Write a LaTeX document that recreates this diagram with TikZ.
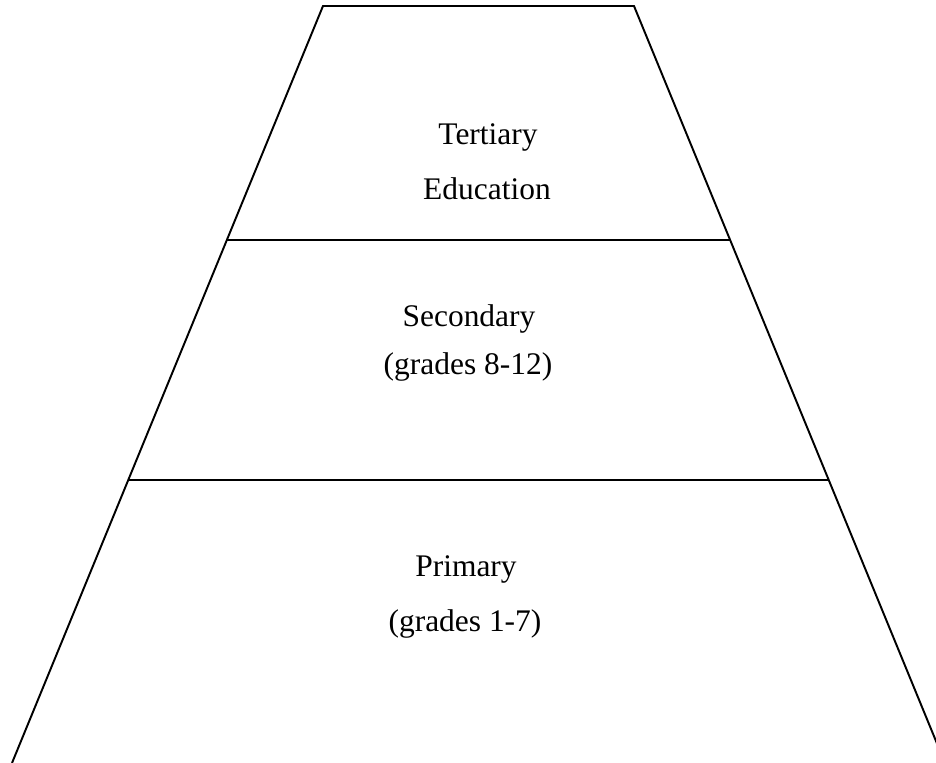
\documentclass[tikz,border=0pt]{standalone}
\usepackage{fontspec}
\setmainfont{Liberation Serif}
\usetikzlibrary{calc}
\tikzset{
  level/.style={anchor=base,inner sep=0pt,font=\fontsize{17.9}{21}\selectfont},
}
\begin{document}
\begin{tikzpicture}[line width=1.1pt]
\clip (0,0) rectangle (18.72,15.26);
\coordinate (tl) at (6.46,15.14);
\coordinate (tr) at (12.68,15.14);
\coordinate (bl) at (0.24,0);
\coordinate (br) at (18.90,0);
\draw (bl)--(tl)--(tr)--(br);
\draw ($(tl)!0.309!(bl)$)--($(tr)!0.309!(br)$);
\draw ($(tl)!0.626!(bl)$)--($(tr)!0.626!(br)$);
\node[level] (tert) at (9.76,12.36) {Tertiary};
\node[level] (edu) at (9.74,11.26) {Education};
\node[level] (sec) at (9.38,8.72) {Secondary};
\node[level] (secgr) at (9.36,7.76) {(grades 8-12)};
\node[level] (prim) at (9.32,3.72) {Primary};
\node[level] (primgr) at (9.30,2.62) {(grades 1-7)};
\end{tikzpicture}
\end{document}
